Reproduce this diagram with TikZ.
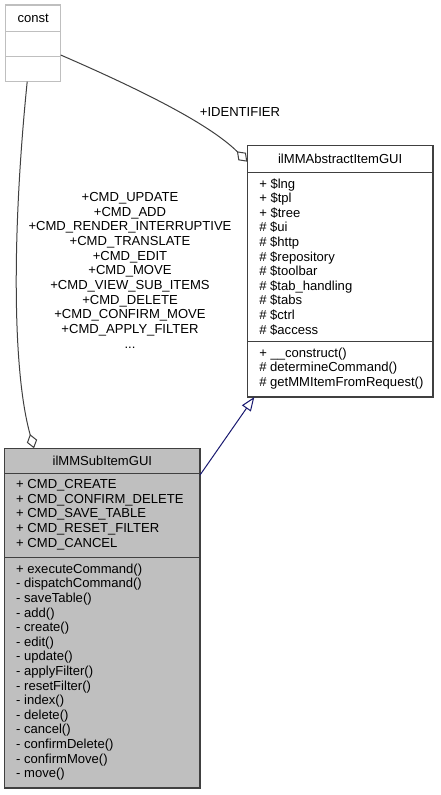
\documentclass[tikz,border=0pt]{standalone}
\usepackage{fontspec}
\setmainfont{Liberation Sans}
\usetikzlibrary{arrows.meta,calc}
\definecolor{boxline}{HTML}{404040}
\definecolor{constline}{HTML}{BFBFBF}
\definecolor{subfill}{HTML}{BFBFBF}
\definecolor{edgegray}{HTML}{404040}
\definecolor{inhblue}{HTML}{191970}
\tikzset{
  txt/.style={font=\fontsize{9.8pt}{11pt}\selectfont, inner sep=0pt, outer sep=0pt, text=black},
  mem/.style={txt, anchor=base west},
  hdr/.style={txt, anchor=center},
  classbox/.style={draw=boxline, line width=0.9pt, inner sep=0pt, outer sep=0pt, anchor=north west},
  constbox/.style={draw=constline, line width=0.9pt, fill=white, inner sep=0pt, outer sep=0pt, anchor=north west},
  divider/.style={draw=boxline, line width=0.9pt},
  constdiv/.style={draw=constline, line width=0.9pt},
  useedge/.style={draw=edgegray, line width=0.75pt, -{Diamond[open, length=11pt, width=8pt]}},
  inhedge/.style={draw=inhblue, line width=0.75pt, -{Triangle[open, length=10.4pt, width=8pt]}}
}
\begin{document}
\begin{tikzpicture}[x=0.75pt, y=-0.75pt]
\fill[white] (0,0) rectangle (440,795);
\useasboundingbox (0,0) rectangle (440,795);

% const box
\node[constbox, minimum width=41.25pt, minimum height=57.5pt] (const) at (5.7,5) {};
\draw[constdiv] ($(const.north west)+(0,26.7)$) -- ($(const.north east)+(0,26.7)$);
\draw[constdiv] ($(const.north west)+(0,51.7)$) -- ($(const.north east)+(0,51.7)$);
\node[hdr] (consthdr) at ($(const.north)+(0,13.3)$) {const};

% ilMMAbstractItemGUI box
\node[classbox, fill=white, minimum width=139.3pt, minimum height=188.5pt] (abs) at (247.3,145.7) {};
\draw[divider] ($(abs.north west)+(0,27)$) -- ($(abs.north east)+(0,27)$);
\draw[divider] ($(abs.north west)+(0,196)$) -- ($(abs.north east)+(0,196)$);
\node[hdr] (abshdr) at ($(abs.north)+(0,13.5)$) {ilMMAbstractItemGUI};
\foreach \t [count=\i from 0] in {+ \$lng, + \$tpl, + \$tree, \# \$ui, \# \$http, \# \$repository, \# \$toolbar, \# \$tab\_handling, \# \$tabs, \# \$ctrl, \# \$access}
  \node[mem] (absa\i) at ($(abs.north west)+(12,{42.3+14.6*\i})$) {\t};
\foreach \t [count=\i from 0] in {+ \_\_construct(), \# determineCommand(), \# getMMItemFromRequest()}
  \node[mem] (absm\i) at ($(abs.north west)+(12,{211.5+14.6*\i})$) {\t};

% ilMMSubItemGUI box
\node[classbox, fill=subfill, minimum width=146.5pt, minimum height=254.8pt] (sub) at (4.7,448.3) {};
\draw[divider] ($(sub.north west)+(0,25)$) -- ($(sub.north east)+(0,25)$);
\draw[divider] ($(sub.north west)+(0,109.4)$) -- ($(sub.north east)+(0,109.4)$);
\node[hdr] (subhdr) at ($(sub.north)+(0,12.5)$) {ilMMSubItemGUI};
\foreach \t [count=\i from 0] in {+ CMD\_CREATE, + CMD\_CONFIRM\_DELETE, + CMD\_SAVE\_TABLE, + CMD\_RESET\_FILTER, + CMD\_CANCEL}
  \node[mem] (suba\i) at ($(sub.north west)+(11.5,{40.4+14.6*\i})$) {\t};
\foreach \t [count=\i from 0] in {+ executeCommand(), - dispatchCommand(), - saveTable(), - add(), - create(), - edit(), - update(), - applyFilter(), - resetFilter(), - index(), - delete(), - cancel(), - confirmDelete(), - confirmMove(), - move()}
  \node[mem] (subm\i) at ($(sub.north west)+(11.5,{124.9+14.6*\i})$) {\t};

% connectors
\coordinate (e1s) at ($(const.north east)+(0,50)$);
\coordinate (e1t) at ($(abs.north west)+(0,16)$);
\draw[useedge] (e1s) .. controls +(69,30) and +(-40,-40) .. (e1t);
\node[txt] (idlbl) at (240,112) {+IDENTIFIER};

\coordinate (e2s) at ($(const.south)+(-6,0)$);
\coordinate (e2t) at ($(sub.north west)+(29.3,0)$);
\draw[useedge] (e2s) .. controls +(-15,148) and +(-22,-78) .. (e2t);
\node[txt, align=center] (cmdlbl) at (130,270.2) {+CMD\_UPDATE\\+CMD\_ADD\\+CMD\_RENDER\_INTERRUPTIVE\\+CMD\_TRANSLATE\\+CMD\_EDIT\\+CMD\_MOVE\\+CMD\_VIEW\_SUB\_ITEMS\\+CMD\_DELETE\\+CMD\_CONFIRM\_MOVE\\+CMD\_APPLY\_FILTER\\...};

\coordinate (e3s) at ($(sub.north east)+(0,26.7)$);
\coordinate (e3t) at ($(abs.south west)+(7,0)$);
\draw[inhedge] (e3s) -- (e3t);
\end{tikzpicture}
\end{document}
